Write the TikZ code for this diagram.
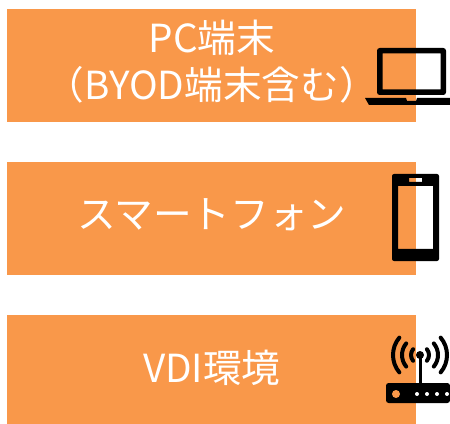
\documentclass[tikz,border=0pt]{standalone}
\usepackage{fontspec}
\setmainfont{Noto Sans CJK JP}
\usepackage{xcolor}
\usetikzlibrary{positioning}
\definecolor{boxorange}{HTML}{F9984A}

\begin{document}
\begin{tikzpicture}[
    x=0.75pt, y=-0.75pt,
    node distance=29.5pt,
    box/.style={rectangle, fill=boxorange, inner sep=0pt, minimum width=306.75pt, minimum height=84.75pt},
    boxtext/.style={text=white, inner sep=0pt, align=center, font=\fontsize{29}{35}\selectfont},
    icon/.style={fill=black, even odd rule},
    wave/.style={draw=black, line width=3pt, line cap=round}
]
\useasboundingbox (0,0) rectangle (450,424);

% Boxes
\node[box, anchor=north west] (pc) at (7,9) {};
\node[box, below=of pc] (phone) {};
\node[box, below=of phone, minimum height=81.75pt] (vdi) {};

% Labels
\node[boxtext, yshift=3pt] (pctext) at (pc) {PC端末\\（BYOD端末含む）};
\node[boxtext, yshift=3pt] (phonetext) at (phone) {スマートフォン};
\node[boxtext, yshift=1.5pt] (vditext) at (vdi) {VDI環境};

% Laptop
\fill[icon] [rounded corners=2pt] (377,48) rectangle (446,95) [sharp corners] (382.5,53.5) rectangle (440.5,89.5);
\fill[icon] (365,98) -- (406,98) -- (407,101) -- (416,101) -- (417,98) -- (450,98) -- (450,105) -- (369,105) -- cycle;

% Phone
\fill[icon] [rounded corners=1.5pt] (392,174) rectangle (439,261) [sharp corners] (398,186) rectangle (433,249) (409,178) rectangle (422,182);

% Router
\fill[icon, rounded corners=2pt] (386,383) rectangle (450,403);
\fill[boxorange] (396,394) circle (4);
\fill[white] (417,394) circle (2) (427,394) circle (2) (437,394) circle (2) (447,394) circle (2);
\draw[black, line width=2.25pt] (420,355) -- (420,383);
\fill[black] (420,355) circle (4);
\foreach \r in {9,18,27} {
    \draw[wave] (420,355) ++(140:\r) arc[start angle=140, end angle=220, radius=\r];
    \draw[wave] (420,355) ++(-40:\r) arc[start angle=-40, end angle=40, radius=\r];
}
\end{tikzpicture}
\end{document}
